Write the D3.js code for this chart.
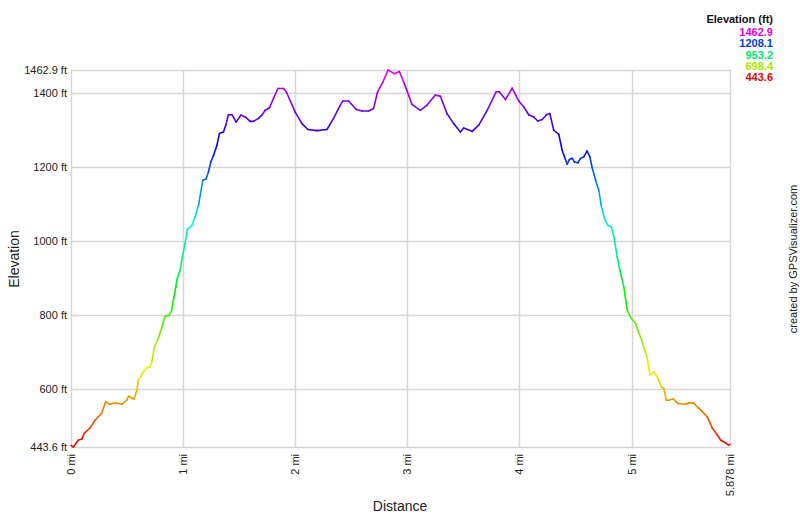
<!DOCTYPE html>
<html><head><meta charset="utf-8">
<script src="https://cdn.jsdelivr.net/npm/d3@7/dist/d3.min.js"></script>
<style>
html,body{margin:0;padding:0;background:#fff;}
svg{display:block;font-family:"Liberation Sans",Arial,sans-serif;}
</style></head>
<body>
<svg id="chart" width="800" height="517"></svg>
<script>
// Distance along track (mi)
const distance = [0,0.021,0.065,0.096,0.119,0.170,0.214,0.274,0.310,0.348,0.393,0.453,0.497,0.512,0.542,0.5625,0.587,0.601,0.646,0.676,0.705,0.721,0.744,0.779,0.810,0.839,0.875,0.899,0.913,0.935,0.944,0.973,0.994,1.018,1.038,1.078,1.107,1.137,1.176,1.205,1.226,1.247,1.271,1.301,1.324,1.360,1.381,1.404,1.435,1.473,1.515,1.554,1.598,1.628,1.672,1.703,1.732,1.771,1.806,1.846,1.896,1.920,2.000,2.060,2.113,2.194,2.283,2.342,2.402,2.426,2.476,2.545,2.596,2.654,2.699,2.735,2.783,2.828,2.884,2.929,2.973,3.042,3.116,3.176,3.250,3.295,3.354,3.413,3.473,3.503,3.578,3.637,3.712,3.792,3.821,3.875,3.935,3.994,4.038,4.083,4.128,4.163,4.203,4.241,4.271,4.306,4.351,4.381,4.402,4.426,4.446,4.471,4.491,4.521,4.545,4.574,4.604,4.628,4.649,4.679,4.708,4.729,4.759,4.788,4.819,4.842,4.872,4.896,4.931,4.961,4.997,5.036,5.056,5.096,5.119,5.140,5.163,5.199,5.235,5.268,5.288,5.310,5.333,5.372,5.413,5.482,5.511,5.551,5.601,5.676,5.721,5.765,5.795,5.839,5.863,5.878];
// Elevation (ft)
const elevation = [448,443.6,462,465,481,495,516,535,566,559,563,559,570,581,576,573,597,624,647,658,660,674,714,737,768,797,800,814,841,876,895,922,958,995,1032,1043,1066,1097,1165,1168,1187,1214,1232,1259,1291,1295,1314,1342,1342,1322,1341,1336,1324,1324,1332,1341,1354,1361,1386,1413,1413,1404,1349,1318,1302,1299,1302,1332,1368,1379,1379,1356,1352,1352,1359,1404,1431,1462.9,1453,1459,1426,1370,1354,1368,1395,1392,1345,1318,1295,1306,1297,1314,1354,1404,1404,1383,1414,1379,1363,1342,1336,1325,1329,1342,1345,1300,1289,1246,1228,1208,1221,1224,1214,1212,1224,1228,1244,1228,1199,1165,1138,1097,1061,1043,1039,1012,958,922,876,814,791,778,759,728,705,683,638,647,629,605,602,570,570,574,561,559,563,563,548,525,494,476,462,455,449,451];

const yTicks = [443.6,600,800,1000,1200,1400,1462.9];
const yTickLabels = ["443.6 ft","600 ft","800 ft","1000 ft","1200 ft","1400 ft","1462.9 ft"];
const xTicks = [0,1,2,3,4,5,5.878];
const xTickLabels = ["0 mi","1 mi","2 mi","3 mi","4 mi","5 mi","5.878 mi"];
const legendValues = [1462.9,1208.1,953.2,698.4,443.6];
const legendLabels = ["1462.9","1208.1","953.2","698.4","443.6"];

(function () {
const minE = 443.6, maxE = 1462.9, maxD = 5.878;
const svg = d3.select("#chart");
const pL = 71, pR = 730, pT = 70, pB = 447;
const x = d3.scaleLinear().domain([0, maxD]).range([pL, pR]);
const y = d3.scaleLinear().domain([minE, maxE]).range([pB, pT]);
const hue = d3.scaleLinear().domain([minE, maxE]).range([0, 300]);
const col = v => d3.hsl(hue(v), 1, 0.47).formatHex();
const legendCol = v => d3.hsl(hue(v), 1, 0.45).formatHex();

const grid = "#d6d6d6";
svg.append("g").selectAll("line").data(yTicks).join("line")
  .attr("x1", pL).attr("x2", pR)
  .attr("y1", d => Math.round(y(d)) + 0.5).attr("y2", d => Math.round(y(d)) + 0.5)
  .attr("stroke", grid).attr("stroke-width", 1.5);
svg.append("g").selectAll("line").data(xTicks).join("line")
  .attr("y1", pT).attr("y2", pB)
  .attr("x1", d => Math.round(x(d)) + 0.5).attr("x2", d => Math.round(x(d)) + 0.5)
  .attr("stroke", grid).attr("stroke-width", 1.5);

svg.append("g").selectAll("text").data(yTicks).join("text")
  .attr("x", pL - 4).attr("y", d => y(d) + 4)
  .attr("text-anchor", "end").attr("font-size", 11).attr("fill", "#222")
  .text((d, i) => yTickLabels[i]);
svg.append("g").selectAll("text").data(xTicks).join("text")
  .attr("transform", d => `translate(${x(d) + 4},${pB + 7}) rotate(-90)`)
  .attr("text-anchor", "end").attr("font-size", 11).attr("fill", "#222")
  .text((d, i) => xTickLabels[i]);

const pts = distance.map((d, i) => [d, elevation[i]]);
const segs = d3.pairs(pts);
svg.append("g").selectAll("line").data(segs).join("line")
  .attr("x1", d => x(d[0][0])).attr("y1", d => y(d[0][1]))
  .attr("x2", d => x(d[1][0])).attr("y2", d => y(d[1][1]))
  .attr("stroke", d => col((d[0][1] + d[1][1]) / 2))
  .attr("stroke-width", 1.6).attr("stroke-linecap", "round");

svg.append("text").attr("x", 400).attr("y", 511).attr("text-anchor", "middle")
  .attr("font-size", 14).attr("fill", "#222").text("Distance");
svg.append("text").attr("transform", "translate(19,259) rotate(-90)")
  .attr("text-anchor", "middle").attr("font-size", 14).attr("fill", "#222").text("Elevation");

svg.append("text").attr("x", 773).attr("y", 23).attr("text-anchor", "end")
  .attr("font-size", 11).attr("font-weight", "bold").attr("fill", "#111").text("Elevation (ft)");
svg.append("g").selectAll("text").data(legendValues).join("text")
  .attr("x", 773).attr("y", (d, i) => 36 + i * 11.3).attr("text-anchor", "end")
  .attr("font-size", 11).attr("font-weight", "bold")
  .attr("fill", d => legendCol(d)).text((d, i) => legendLabels[i]);

svg.append("text").attr("transform", "translate(797,259) rotate(-90)")
  .attr("text-anchor", "middle").attr("font-size", 11).attr("fill", "#222")
  .text("created by GPSVisualizer.com");
})();
</script>
</body></html>
